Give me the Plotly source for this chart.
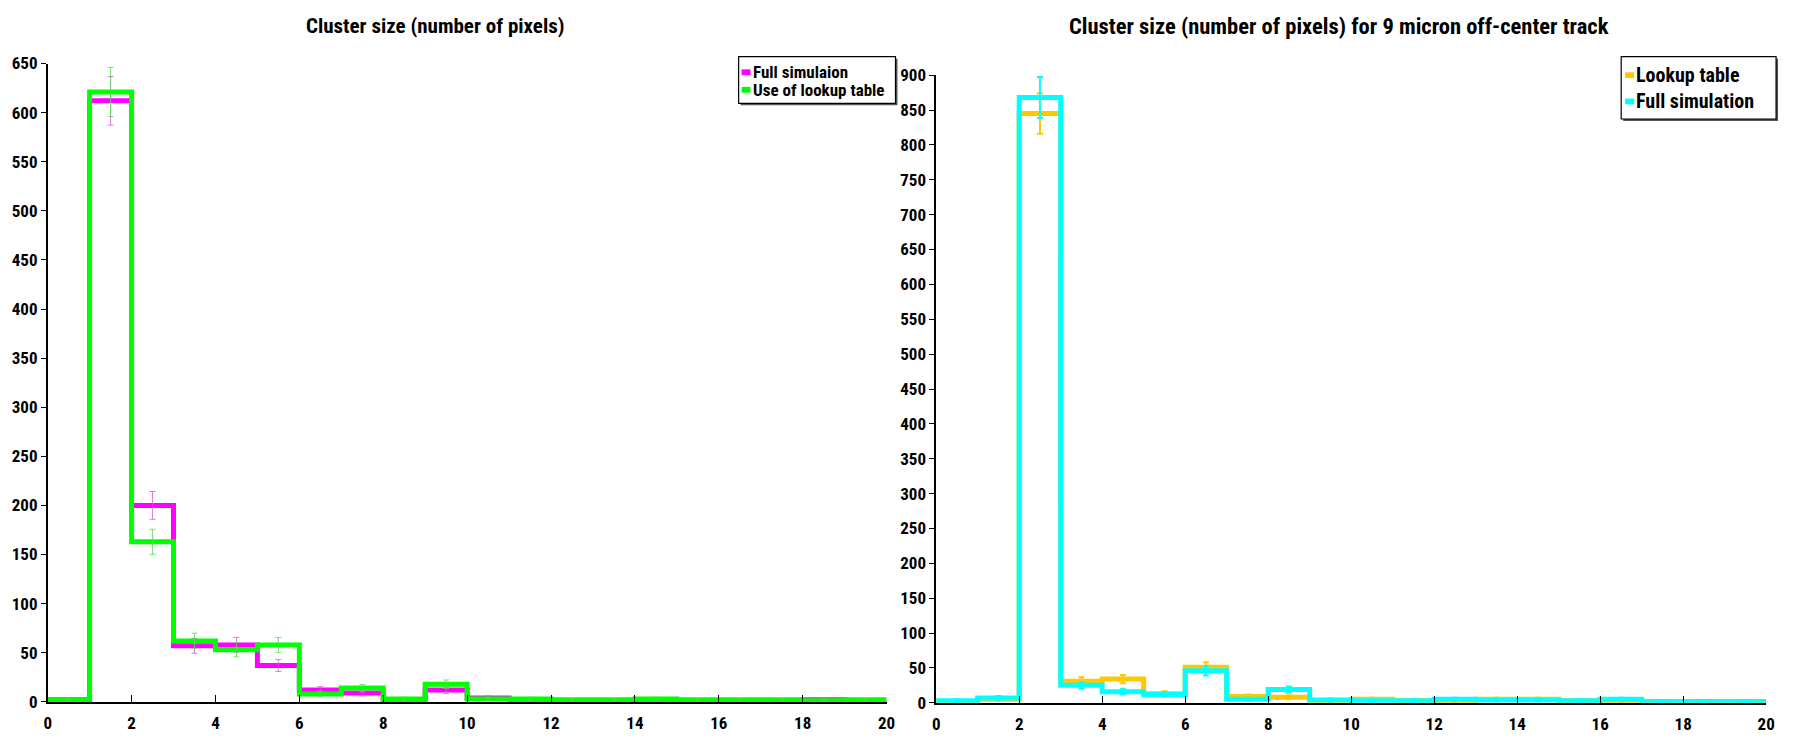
import numpy as np
import plotly.graph_objects as go

W, H = 1794, 742

bin_edges = list(range(0, 21))
x_ticks = list(range(0, 21, 2))

left_title = "Cluster size (number of pixels)"
right_title = "Cluster size (number of pixels) for 9 micron off-center track"

left_names = ["Full simulaion", "Use of lookup table"]
left_full_sim = [2, 612, 200, 57, 58, 37, 12, 9, 2, 12, 4, 2, 1, 1, 1, 1, 1, 1, 2, 1]
left_lookup = [2, 621, 163, 62, 53, 58, 8, 14, 3, 18, 3, 3, 2, 2, 3, 2, 2, 2, 1, 2]

right_names = ["Lookup table", "Full simulation"]
right_lookup = [2, 5, 845, 31, 34, 13, 51, 9, 8, 3, 5, 3, 3, 5, 5, 3, 3, 2, 2, 2]
right_full_sim = [3, 7, 868, 25, 16, 12, 46, 5, 19, 4, 3, 3, 5, 4, 4, 3, 5, 2, 2, 2]

MAGENTA = "#ff00ff"
GREEN = "#00ff00"
ORANGE = "#ffc800"
CYAN = "#00ffff"

FONT = "Liberation Sans Narrow, Roboto Condensed, Arial Narrow, Roboto, sans-serif"

fig = go.Figure()


def add_hist(vals, color, xa, ya, lw, err_w, err_color, marker):
    xs = bin_edges[:-1] + [bin_edges[-1]]
    ys = list(vals) + [vals[-1]]
    fig.add_trace(go.Scatter(x=xs, y=ys, mode="lines", line=dict(color=color, width=lw, shape="hv"),
                             xaxis=xa, yaxis=ya, showlegend=False, hoverinfo="skip"))
    centers = [(bin_edges[i] + bin_edges[i + 1]) / 2 for i in range(len(vals))]
    fig.add_trace(go.Scatter(x=centers, y=vals, mode="markers",
                             marker=dict(size=marker, color=err_color, opacity=1 if marker else 0),
                             error_y=dict(type="data", array=np.sqrt(np.array(vals, dtype=float)),
                                          color=err_color, thickness=err_w, width=3),
                             xaxis=xa, yaxis=ya, showlegend=False, hoverinfo="skip"))


add_hist(left_full_sim, MAGENTA, "x", "y", 5, 1, "rgba(230,80,230,0.8)", 0)
add_hist(left_lookup, GREEN, "x", "y", 5, 1, "rgba(80,220,80,0.8)", 0)
add_hist(right_lookup, ORANGE, "x2", "y2", 5, 2, ORANGE, 5)
add_hist(right_full_sim, CYAN, "x2", "y2", 5, 2, CYAN, 5)

tickfont = dict(family=FONT, size=17, color="black", weight="bold")

common_x = dict(range=[0, 20], tickvals=x_ticks, ticks="inside", ticklen=7, tickcolor="black",
                showline=True, linecolor="black", linewidth=1.5, showgrid=False, zeroline=False,
                tickfont=tickfont, ticklabelstandoff=5)
common_y = dict(dtick=50, ticks="outside", ticklen=5, tickcolor="black",
                showline=True, linecolor="black", linewidth=1.5, showgrid=False, zeroline=False,
                tickfont=tickfont)

fig.update_layout(
    width=W, height=H, margin=dict(l=0, r=0, t=0, b=0),
    paper_bgcolor="white", plot_bgcolor="white", showlegend=False,
    xaxis=dict(domain=[44 / W, 889 / W], anchor="y", **common_x),
    yaxis=dict(domain=[1 - 711 / H, 1 - 55 / H], range=[0, 650], anchor="x", **common_y),
    xaxis2=dict(domain=[939 / W, 1775 / W], anchor="y2", **common_x),
    yaxis2=dict(domain=[1 - 712 / H, 1 - 67 / H], range=[0, 900], anchor="x2", **common_y),
)

fig.add_annotation(text=left_title, x=435 / W, y=1 - 16 / H, xref="paper", yref="paper",
                   showarrow=False, xanchor="center", yanchor="middle",
                   font=dict(family=FONT, size=21, color="black", weight="bold"))
fig.add_annotation(text=right_title, x=1345 / W, y=1 - 16 / H, xref="paper", yref="paper",
                   showarrow=False, xanchor="center", yanchor="middle",
                   font=dict(family=FONT, size=22.5, color="black", weight="bold"))


def px(x):
    return x / W


def py(y):
    return 1 - y / H


def legend(x0, y0, x1, y1, names, colors, rows_y, sym_x, text_x, fsize):
    fig.add_shape(type="rect", xref="paper", yref="paper", x0=px(x0 + 2), y0=py(y1 + 2), x1=px(x1 + 2),
                  y1=py(y0 + 2), line=dict(width=0), fillcolor="#555555", layer="above")
    fig.add_shape(type="rect", xref="paper", yref="paper", x0=px(x0), y0=py(y1), x1=px(x1), y1=py(y0),
                  line=dict(color="black", width=1.2), fillcolor="white", layer="above")
    for name, color, ry in zip(names, colors, rows_y):
        fig.add_shape(type="rect", xref="paper", yref="paper", x0=px(sym_x), x1=px(sym_x + 9),
                      y0=py(ry + 3), y1=py(ry - 3), line=dict(width=0), fillcolor=color, layer="above")
        fig.add_annotation(text=name, x=px(text_x), y=py(ry), xref="paper", yref="paper", showarrow=False,
                           xanchor="left", yanchor="middle",
                           font=dict(family=FONT, size=fsize, color="black", weight="bold"))


legend(740, 48, 898, 96, left_names, [MAGENTA, GREEN], [64, 82], 743, 752, 17)
legend(1629, 48, 1785, 112, right_names, [ORANGE, CYAN], [67, 94], 1633, 1642, 20)

fig.write_html("out.html")
